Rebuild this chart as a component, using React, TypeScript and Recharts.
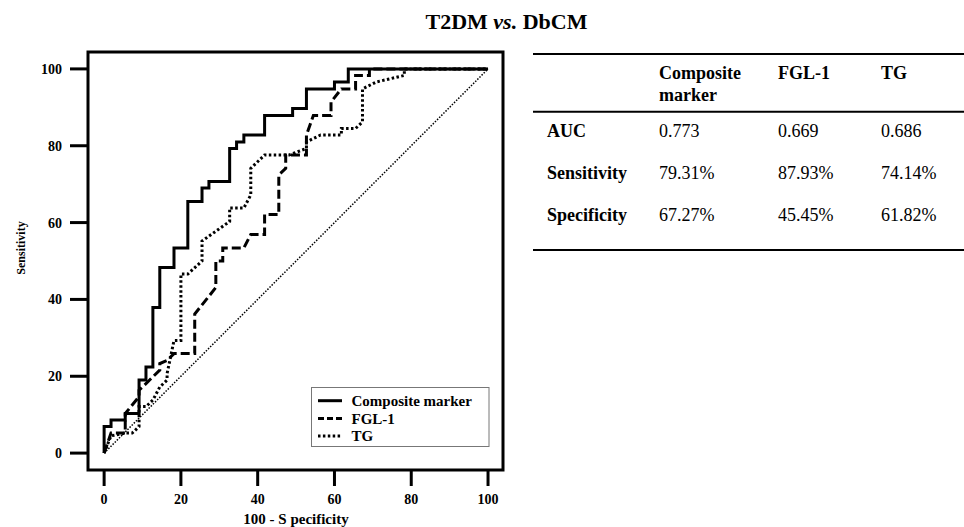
import { LineChart, Line, XAxis, YAxis, ReferenceArea } from 'recharts';

const FONT = "'Liberation Serif', 'Times New Roman', Times, serif";

// ROC points as [100 - specificity, sensitivity]
const compositeMarker = [
  [0, 0], [0, 6.9], [1.8, 6.9], [1.8, 8.6], [5.5, 8.6], [5.5, 10.3], [9.1, 10.3], [9.1, 19],
  [10.9, 19], [10.9, 22.4], [12.7, 22.4], [12.7, 37.9], [14.5, 37.9], [14.5, 48.3], [18.2, 48.3],
  [18.2, 53.4], [21.8, 53.4], [21.8, 65.5], [25.5, 65.5], [25.5, 69], [27.3, 69], [27.3, 70.7],
  [32.7, 70.7], [32.7, 79.3], [34.5, 79.3], [34.5, 81], [36.4, 81], [36.4, 82.8], [41.8, 82.8],
  [41.8, 87.9], [49.1, 87.9], [49.1, 89.7], [52.7, 89.7], [52.7, 94.8], [60, 94.8], [60, 96.6],
  [63.6, 96.6], [63.6, 100], [100, 100],
];

const fgl1 = [
  [0, 0], [1.8, 5.2], [5.5, 5.2], [5.5, 10.3], [9.1, 14.7], [9.1, 16.4], [10.9, 18.1], [14.5, 21.6],
  [14.5, 23.3], [16.4, 24.1], [18.2, 25.9], [23.6, 25.9], [23.6, 36.2], [29.1, 43.1], [29.1, 50],
  [30.9, 50], [30.9, 53.4], [36.4, 53.4], [38.2, 56.9], [41.8, 56.9], [41.8, 62.1], [45.5, 62.1],
  [45.5, 72.4], [47.3, 74.1], [47.3, 77.6], [52.7, 77.6], [52.7, 82.8], [54.5, 87.9], [59.1, 87.9],
  [59.1, 91.4], [61.8, 94.8], [65.5, 94.8], [65.5, 98.3], [69.1, 98.3], [69.1, 100], [100, 100],
];

const tg = [
  [0, 0], [1.8, 4.5], [5.5, 5.2], [7.3, 5.2], [9.1, 6.9], [9.1, 12.1], [10.9, 12.1], [12.7, 13.8],
  [14.5, 17.2], [16.4, 19], [16.4, 20.7], [18.2, 29.3], [20, 29.3], [20, 46.6], [21.8, 46.6],
  [25.5, 50], [25.5, 55.2], [32.7, 60.3], [32.7, 63.8], [36.4, 63.8], [38.2, 67.2], [38.2, 74.1],
  [41.8, 77.6], [48.2, 77.6], [52.7, 79.3], [52.7, 81], [56.4, 82.8], [61.8, 82.8], [61.8, 84.5],
  [65.5, 84.5], [67.3, 86.2], [67.3, 94.8], [70.9, 96.6], [78.2, 98.3], [78.2, 100], [100, 100],
];

const chanceLine = [[0, 0], [100, 100]];

const axisTicks = [0, 20, 40, 60, 80, 100];

const tableHeader = [['Composite', 'marker'], ['FGL-1'], ['TG']];
const rowLabels = ['AUC', 'Sensitivity', 'Specificity'];
const aucValues = ['0.773', '0.669', '0.686'];
const sensitivityValues = ['79.31%', '87.93%', '74.14%'];
const specificityValues = ['67.27%', '45.45%', '61.82%'];

const legendItems = [
  { name: 'Composite marker', dash: undefined },
  { name: 'FGL-1', dash: '6 3' },
  { name: 'TG', dash: '2.5 2.4' },
];

const toPoints = (arr) => arr.map(([x, y]) => ({ x, y }));

const tickStyle = { fill: '#000', fontSize: 14, fontWeight: 'bold', fontFamily: FONT };

export default function App() {
  const tableRowsData = [aucValues, sensitivityValues, specificityValues];
  const rowBaselines = [136.7, 179, 221];
  const colX = [659, 778, 881];

  return (
    <div style={{ position: 'absolute', left: 0, top: 0, width: 964, height: 527, background: '#fff', fontFamily: FONT }}>
      <LineChart width={520} height={527} margin={{ top: 52, right: 17, bottom: 0, left: 0 }}>
        <XAxis
          dataKey="x"
          type="number"
          domain={[-4.2, 103.9]}
          allowDataOverflow
          ticks={axisTicks}
          axisLine={false}
          tickLine={{ stroke: '#000', strokeWidth: 3 }}
          tickSize={16}
          tickMargin={8}
          height={57}
          tick={tickStyle}
        />
        <YAxis
          dataKey="y"
          type="number"
          domain={[-4.4, 104.4]}
          allowDataOverflow
          ticks={axisTicks}
          axisLine={false}
          tickLine={{ stroke: '#000', strokeWidth: 3 }}
          tickSize={18}
          tickMargin={8}
          width={88}
          tick={tickStyle}
        />
        <ReferenceArea x1={-4.2} x2={103.9} y1={-4.4} y2={104.4} fill="none" fillOpacity={0} stroke="#000" strokeWidth={3} ifOverflow="visible" />
        <Line data={toPoints(chanceLine)} dataKey="y" type="linear" stroke="#000" strokeWidth={1.5} strokeDasharray="1.5 1.5" dot={false} activeDot={false} isAnimationActive={false} />
        <Line data={toPoints(tg)} dataKey="y" name="TG" type="linear" stroke="#000" strokeWidth={3} strokeDasharray="2.5 2.4" dot={false} activeDot={false} isAnimationActive={false} />
        <Line data={toPoints(fgl1)} dataKey="y" name="FGL-1" type="linear" stroke="#000" strokeWidth={3} strokeDasharray="9 4" dot={false} activeDot={false} isAnimationActive={false} />
        <Line data={toPoints(compositeMarker)} dataKey="y" name="Composite marker" type="linear" stroke="#000" strokeWidth={3} dot={false} activeDot={false} isAnimationActive={false} />
      </LineChart>

      <svg width={964} height={527} style={{ position: 'absolute', left: 0, top: 0, pointerEvents: 'none' }} fontFamily={FONT}>
        <text x={506.5} y={29} textAnchor="middle" fontSize={22} fontWeight="bold">
          T2DM <tspan fontStyle="italic">vs.</tspan> DbCM
        </text>

        <text transform="translate(25,248) rotate(-90)" textAnchor="middle" fontSize={12} fontWeight="bold">Sensitivity</text>
        <text x={296} y={524} textAnchor="middle" fontSize={15} fontWeight="bold">100 - S pecificity</text>

        {/* legend */}
        <rect x={311.5} y={387.5} width={177.5} height={59} fill="#fff" stroke="#777" strokeWidth={1} />
        {legendItems.map((item, i) => {
          const cy = 400.7 + i * 17.7;
          return (
            <g key={item.name}>
              <line x1={318} x2={342} y1={cy} y2={cy} stroke="#000" strokeWidth={3} strokeDasharray={item.dash} />
              <text x={351.5} y={cy + 5.3} fontSize={15} fontWeight="bold">{item.name}</text>
            </g>
          );
        })}

        {/* table */}
        <line x1={533} x2={964} y1={54} y2={54} stroke="#000" strokeWidth={2} />
        <line x1={533} x2={964} y1={111.7} y2={111.7} stroke="#000" strokeWidth={2} />
        <line x1={533} x2={964} y1={250} y2={250} stroke="#000" strokeWidth={2} />
        {tableHeader.map((lines, c) =>
          lines.map((t, k) => (
            <text key={`${c}-${k}`} x={colX[c]} y={79.3 + k * 22} fontSize={18} fontWeight="bold">{t}</text>
          ))
        )}
        {rowLabels.map((label, r) => (
          <g key={label}>
            <text x={547} y={rowBaselines[r]} fontSize={18} fontWeight="bold">{label}</text>
            {tableRowsData[r].map((v, c) => (
              <text key={c} x={colX[c]} y={rowBaselines[r]} fontSize={18}>{v}</text>
            ))}
          </g>
        ))}
      </svg>
    </div>
  );
}
